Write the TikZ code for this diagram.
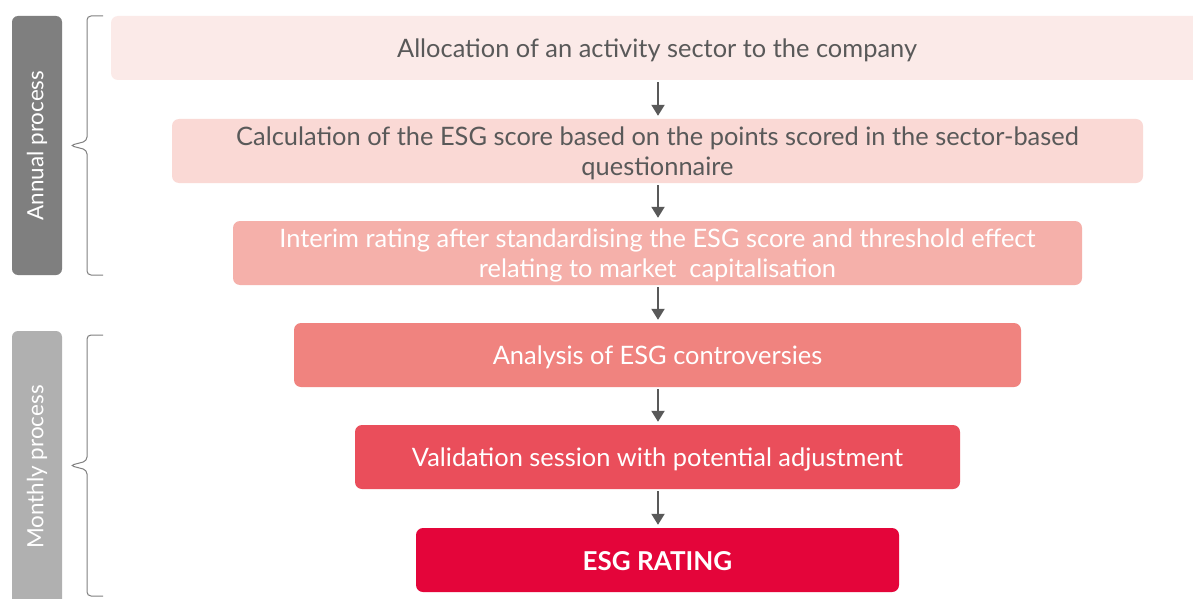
\documentclass[tikz,border=0pt]{standalone}
\usepackage{fontspec}
\setmainfont{Lato}
\usetikzlibrary{arrows.meta}
\definecolor{cA}{HTML}{FBEAE8}
\definecolor{cB}{HTML}{FAD9D5}
\definecolor{cC}{HTML}{F5B0AA}
\definecolor{cD}{HTML}{F0837F}
\definecolor{cE}{HTML}{EA4E5B}
\definecolor{cF}{HTML}{E4053A}
\definecolor{darkside}{HTML}{7F7F7F}
\definecolor{lightside}{HTML}{B0B0B0}
\definecolor{txt}{HTML}{595959}
\definecolor{bracec}{HTML}{808080}
\tikzset{
  stepbox/.style={rounded corners=7pt, inner sep=0pt, minimum height=64pt},
  steptext/.style={inner sep=0pt, align=center, font=\fontsize{25.4}{30}\selectfont},
  sidetext/.style={text=white, rotate=90, inner sep=0pt, font=\fontsize{22.4}{26}\selectfont},
  flow/.style={draw=txt, line width=2pt, -{Triangle[length=11pt,width=13pt]}},
  bracepath/.style={draw=bracec, line width=1pt, rounded corners=4pt}
}
\begin{document}
\begin{tikzpicture}[x=1pt,y=-1pt]
\clip (0,0) rectangle (1193,599);
\fill[white] (0,0) rectangle (1193,599);
% side bars
\fill[darkside, rounded corners=6pt] (12,16) rectangle (62,275);
\node[sidetext] (annual) at (37,145.5) {Annual process};
\fill[lightside, rounded corners=6pt] (12,331) rectangle (62,620);
\node[sidetext] (monthly) at (37,467) {Monthly process};
% braces
\draw[bracepath] (103,16) -- (87,16) -- (87,141) -- (70,145.5) -- (87,150) -- (87,275) -- (103,275);
\draw[bracepath] (103,335) -- (87,335) -- (87,461) -- (70,465.5) -- (87,470) -- (87,596) -- (103,596);
% steps
\node[stepbox, fill=cA, minimum width=1092pt] (b1) at (657,48) {};
\node[stepbox, fill=cB, minimum width=971pt] (b2) at (657.5,151) {};
\node[stepbox, fill=cC, minimum width=849pt] (b3) at (657.5,253) {};
\node[stepbox, fill=cD, minimum width=727pt] (b4) at (657.5,355) {};
\node[stepbox, fill=cE, minimum width=605pt] (b5) at (657.5,457) {};
\node[stepbox, fill=cF, minimum width=483pt] (b6) at (657.5,560) {};
\node[steptext, text=txt, yshift=-2.5pt] (t1) at (b1) {Allocation of an activity sector to the company};
\node[steptext, text=txt, yshift=-2pt] (t2) at (b2) {Calculation of the ESG score based on the points scored in the sector-based\\questionnaire};
\node[steptext, text=white, yshift=-2pt] (t3) at (b3) {Interim rating after standardising the ESG score and threshold effect\\relating to market\ \ capitalisation};
\node[steptext, text=white, yshift=-2.5pt] (t4) at (b4) {Analysis of ESG controversies};
\node[steptext, text=white, yshift=-2.5pt] (t5) at (b5) {Validation session with potential adjustment};
\node[steptext, text=white, yshift=-1.5pt, font=\bfseries\fontsize{26}{30}\selectfont] (t6) at (b6) {ESG RATING};
% arrows
\foreach \a/\b in {b1/b2,b2/b3,b3/b4,b4/b5,b5/b6}
  \draw[flow, shorten <=2pt, shorten >=3pt] (\a.south -| 658,0) -- (\b.north -| 658,0);
\end{tikzpicture}
\end{document}
